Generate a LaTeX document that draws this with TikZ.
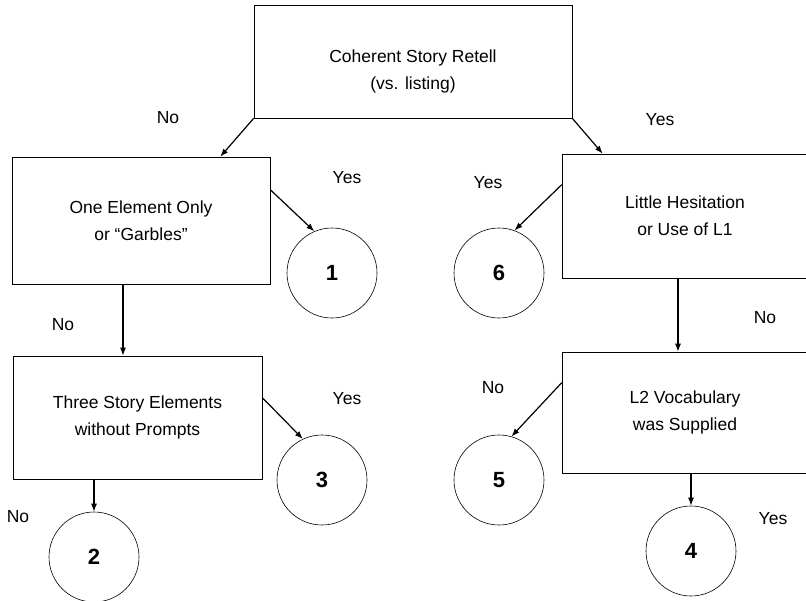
\documentclass[tikz,border=0pt]{standalone}
\usepackage{fontspec}
\setmainfont{Liberation Sans}
\usetikzlibrary{arrows.meta}

\begin{document}
\begin{tikzpicture}[x=1pt,y=-1pt,
  box/.style = {draw, line width=0.6pt, align=center, inner sep=0pt,
                font=\fontsize{17.5}{27}\selectfont},
  result/.style = {draw, circle, line width=0.6pt, minimum size=90pt, inner sep=0pt,
                   font=\fontsize{22}{22}\selectfont\bfseries},
  lbl/.style = {font=\fontsize{17.5}{20}\selectfont},
  arr/.style = {line width=1.2pt, -{Latex[length=8pt,width=6pt]}}]
\clip (0,0) rectangle (806,600);

% question boxes
\node[box, minimum width=318pt, minimum height=113pt] (retell) at (413,61.5) {};
\node[box, draw=none] (retelltxt) at ([yshift=-10pt]retell.center)
  {Coherent Story Retell\\(vs. listing)};
\node[box, minimum width=258pt, minimum height=127pt] (one) at (141,220.5)
  {One Element Only\\or “Garbles”};
\node[box, minimum width=249pt, minimum height=123pt] (three) at (137.5,417.5)
  {Three Story Elements\\without Prompts};
\node[box, minimum width=246pt, minimum height=124pt] (hesit) at (685,216)
  {Little Hesitation\\or Use of L1};
\node[box, minimum width=246pt, minimum height=121pt] (vocab) at (685,412.5)
  {L2 Vocabulary\\was Supplied};

% scores
\node[result] (s1) at (332,273) {1};
\node[result] (s6) at (499,273) {6};
\node[result] (s3) at (322,480) {3};
\node[result] (s5) at (499,480) {5};
\node[result] (s2) at (94,557) {2};
\node[result] (s4) at (691,551) {4};

% branches
\draw[arr] (retell.south west) -- ([xshift=-50pt]one.north east);
\draw[arr] (retell.south east) -- ([xshift=41pt]hesit.north west);
\draw[arr] ([yshift=-33pt]one.north east) -- (s1.113);
\draw[arr] ([yshift=-31pt]hesit.north west) -- (s6.70);
\draw[arr] ([xshift=-18pt]one.south) coordinate (d1) -- (d1 |- three.north);
\draw[arr] ([xshift=-7pt]hesit.south) coordinate (d2) -- (d2 |- vocab.north);
\draw[arr] ([yshift=-42pt]three.north east) -- (s3.115);
\draw[arr] ([yshift=-31pt]vocab.north west) -- (s5.74);
\draw[arr] (three.south -| s2) -- (s2.north);
\draw[arr] (vocab.south -| s4) -- (s4.north);

% answers
\node[lbl] (n1) at (168,118) {No};
\node[lbl] (y1) at (660,120) {Yes};
\node[lbl] (y2) at (347,178) {Yes};
\node[lbl] (y3) at (488,183) {Yes};
\node[lbl] (n2) at (63,325) {No};
\node[lbl] (n3) at (765,318) {No};
\node[lbl] (y4) at (347,399) {Yes};
\node[lbl] (n4) at (493,388) {No};
\node[lbl] (n5) at (18,517) {No};
\node[lbl] (y5) at (773,519) {Yes};
\end{tikzpicture}
\end{document}
